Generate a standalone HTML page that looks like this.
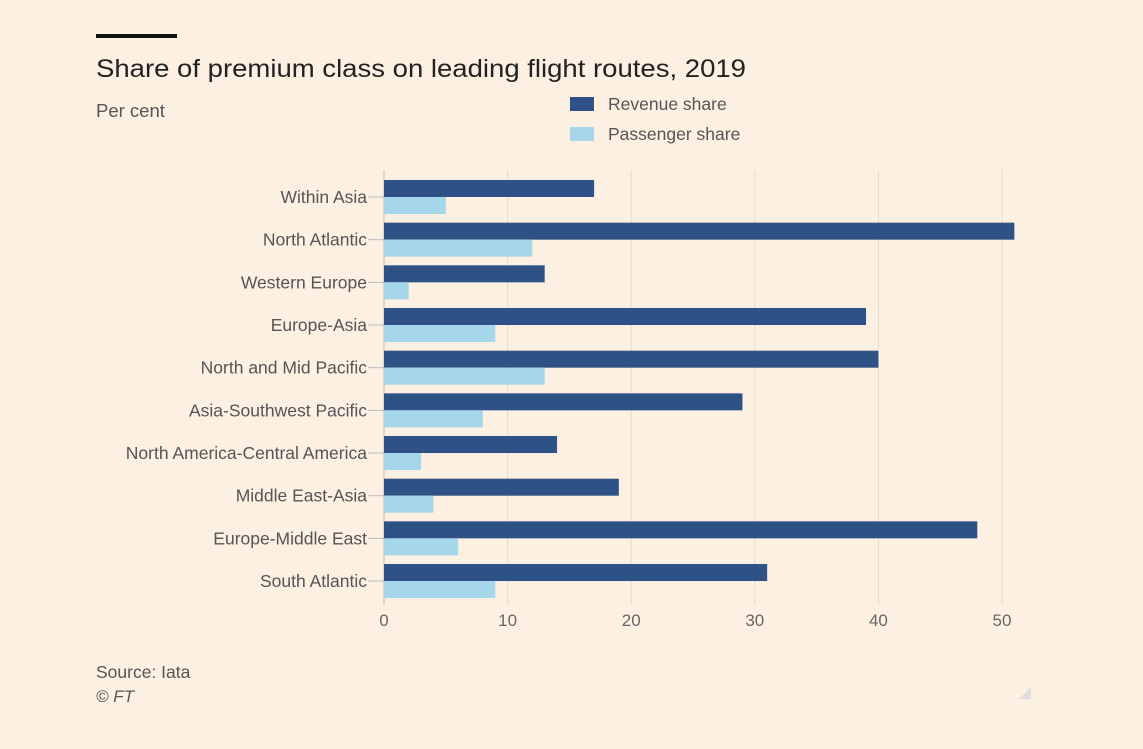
<!DOCTYPE html>
<html><head><meta charset="utf-8"><style>
html,body{margin:0;padding:0;background:#fcf0e2;}
body{width:1143px;height:749px;overflow:hidden;position:relative;font-family:"Liberation Sans",sans-serif;}
</style></head><body>
<svg id="chart" width="1143" height="749" xmlns="http://www.w3.org/2000/svg" style="position:absolute;left:0;top:0">
<rect x="0" y="0" width="1143" height="749" fill="#fcf0e2"/>
<rect x="96" y="34" width="81" height="4" fill="#111"/>
<text x="96" y="77" font-size="25" fill="#222" textLength="650" lengthAdjust="spacingAndGlyphs">Share of premium class on leading flight routes, 2019</text>
<text x="96" y="117" font-size="18.5" fill="#555">Per cent</text>
<g>
<rect x="570" y="97" width="24" height="14" fill="#2e5186"/>
<text x="608" y="110" font-size="17.5" fill="#555">Revenue share</text>
<rect x="570" y="127" width="24" height="14" fill="#a5d6ea"/>
<text x="608" y="140" font-size="17.5" fill="#555">Passenger share</text>
</g>
<g id="grid"></g><g id="bars"></g><g id="labels"></g>
<text x="96" y="678" font-size="17.5" fill="#555">Source: Iata</text>
<text x="96" y="702" font-size="17" fill="#555" font-style="italic">© FT</text>
<polygon points="1031,687 1031,699 1019,699" fill="#ddd"/>
</svg>
<script>
const categories=["Within Asia","North Atlantic","Western Europe","Europe-Asia","North and Mid Pacific","Asia-Southwest Pacific","North America-Central America","Middle East-Asia","Europe-Middle East","South Atlantic"];
const revenue=[17,51,13,39,40,29,14,19,48,31];
const passenger=[5,12,2,9,13,8,3,4,6,9];
const ticks=[0,10,20,30,40,50];
const NS="http://www.w3.org/2000/svg";
const x0=384,ppu=12.36,y0=180,rowH=42.67,barH=17;
const xs=v=>x0+v*ppu;
const ys=i=>y0+i*rowH;
function mk(tag,attrs,parent){const e=document.createElementNS(NS,tag);for(const k in attrs)e.setAttribute(k,attrs[k]);document.getElementById(parent).appendChild(e);return e;}
ticks.forEach(t=>{
 const l=mk('line',{x1:xs(t),x2:xs(t),y1:170,y2:605,stroke:t===0?'#bbb':'#e3dbd0','stroke-width':1},'grid');
 
 
 const tx=mk('text',{x:xs(t),y:626,'font-size':17,fill:'#666','text-anchor':'middle'},'grid');
 tx.textContent=t;
 
 
});
categories.forEach((c,i)=>{
 const r=mk('rect',{x:x0,y:ys(i),width:xs(revenue[i])-x0,height:barH,fill:'#2e5186'},'bars');
 
 
 const p=mk('rect',{x:x0,y:ys(i)+barH,width:xs(passenger[i])-x0,height:barH,fill:'#a5d6ea'},'bars');
 
 
 const tk=mk('line',{x1:368,x2:x0,y1:ys(i)+barH,y2:ys(i)+barH,stroke:'#bbb'},'labels');
 
 
 const t=mk('text',{x:367,y:ys(i)+barH+6,'font-size':17.5,fill:'#555','text-anchor':'end'},'labels');
 t.textContent=c;
 
 
});
</script>
</body></html>
